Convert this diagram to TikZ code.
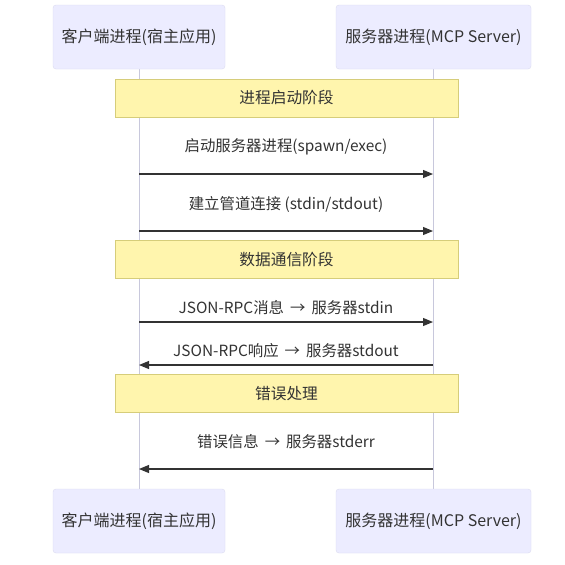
\documentclass[tikz,border=0pt]{standalone}
\usepackage{fontspec}
\setmainfont{Noto Sans CJK SC}
\usetikzlibrary{arrows.meta}
\definecolor{actfill}{HTML}{ECECFF}
\definecolor{actline}{HTML}{DCDCF0}
\definecolor{notefill}{HTML}{FFF5AD}
\definecolor{noteline}{HTML}{D6CD7A}
\definecolor{life}{HTML}{C8C8DC}
\definecolor{ink}{HTML}{333333}
\begin{document}
\begin{tikzpicture}[x=1pt,y=-1pt,
  actor/.style={draw=actline,fill=actfill,rounded corners=3pt,inner sep=0pt,font=\fontsize{16}{19}\selectfont,text=ink},
  notebox/.style={draw=noteline,fill=notefill,inner sep=0pt,font=\fontsize{15.7}{19}\selectfont,text=ink},
  msg/.style={draw=ink,line width=1.1pt,-{Triangle[length=10pt,width=8pt]}},
  msglabel/.style={font=\fontsize{15.4}{18}\selectfont,text=ink,inner sep=0pt},
  lifeline/.style={draw=life,line width=1pt}]
\useasboundingbox (0,0) rectangle (565,565);
\fill[white] (0,0) rectangle (565,565);
% lifelines
\coordinate (lt) at (139,69);
\coordinate (lb) at (139,489);
\coordinate (rt) at (433,69);
\coordinate (rb) at (433,489);
\draw[lifeline] (lt) -- (lb);
\draw[lifeline] (rt) -- (rb);
% actors
\node[actor,minimum width=172pt,minimum height=64pt] (cTop) at (139,37) {客户端进程(宿主应用)};
\node[actor,minimum width=195pt,minimum height=64pt] (sTop) at (433.5,37) {服务器进程(MCP Server)};
\node[actor,minimum width=172pt,minimum height=64pt] (cBot) at (139,521) {客户端进程(宿主应用)};
\node[actor,minimum width=195pt,minimum height=64pt] (sBot) at (433.5,521) {服务器进程(MCP Server)};
% notes
\node[notebox,minimum width=343pt,minimum height=38pt] (n1) at (286.5,98) {进程启动阶段};
\node[notebox,minimum width=343pt,minimum height=38pt] (n2) at (286.5,259.5) {数据通信阶段};
\node[notebox,minimum width=343pt,minimum height=38pt] (n3) at (286.5,393.5) {错误处理};
% messages
\coordinate (m1a) at (139,174); \coordinate (m1b) at (433,174);
\coordinate (m2a) at (139,231); \coordinate (m2b) at (433,231);
\coordinate (m3a) at (139,322); \coordinate (m3b) at (433,322);
\coordinate (m4a) at (433,365); \coordinate (m4b) at (139,365);
\coordinate (m5a) at (433,469); \coordinate (m5b) at (139,469);
\draw[msg] (m1a) -- (m1b);
\draw[msg] (m2a) -- (m2b);
\draw[msg] (m3a) -- (m3b);
\draw[msg] (m4a) -- (m4b);
\draw[msg] (m5a) -- (m5b);
\node[msglabel] (t1) at (286,147) {启动服务器进程(spawn/exec)};
\node[msglabel] (t2) at (286,204) {建立管道连接 (stdin/stdout)};
\node[msglabel] (t3) at (286,308) {JSON-RPC消息 \,→\, 服务器stdin};
\node[msglabel] (t4) at (286,351) {JSON-RPC响应 \,→\, 服务器stdout};
\node[msglabel] (t5) at (286,442) {错误信息 \,→\, 服务器stderr};
\end{tikzpicture}
\end{document}
